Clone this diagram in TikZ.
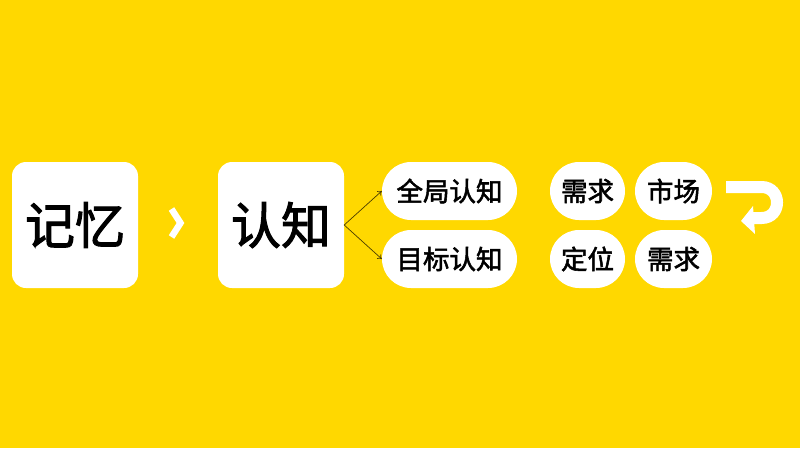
\documentclass[tikz,border=0pt]{standalone}
\usepackage{fontspec}
\newfontfamily\cjk[BoldFont={Noto Sans CJK SC}, BoldFeatures={FakeBold=2}]{Noto Sans CJK SC}
\usetikzlibrary{arrows.meta}
\definecolor{bg}{HTML}{FFD800}
\definecolor{lineC}{HTML}{4A3D00}
\begin{document}
\begin{tikzpicture}[x=1pt,y=-1pt,
  bigbox/.style={fill=white, rounded corners=14pt, minimum width=126pt, minimum height=126pt, inner sep=0pt, font=\cjk\bfseries\fontsize{50}{50}\selectfont},
  pill/.style={fill=white, rounded corners=29pt, minimum height=58pt, inner sep=0pt, font=\cjk\bfseries\fontsize{26.5}{26.5}\selectfont},
  conn/.style={draw=lineC, line width=0.7pt, -{To[length=4pt,width=6pt]}},
  wmark/.style={draw=white, line width=12pt}]
\fill[bg] (0,0) rectangle (800,448);
\useasboundingbox (0,0) rectangle (800,448);
\node[bigbox] (mem) at (75,225) {记忆};
\node[bigbox] (cog) at (281,225) {认知};
\node[pill, minimum width=135pt] (glob) at (449.5,191) {全局认知};
\node[pill, minimum width=135pt] (goal) at (449.5,259) {目标认知};
\node[pill, minimum width=75pt] (need1) at (587.5,191) {需求};
\node[pill, minimum width=77pt] (mkt) at (673.5,191) {市场};
\node[pill, minimum width=75pt] (pos) at (587.5,259) {定位};
\node[pill, minimum width=77pt] (need2) at (673.5,259) {需求};
\draw[conn] (cog.east) -- (glob.west);
\draw[conn] (cog.east) -- (goal.west);
\coordinate (chA) at (171.5,209);
\coordinate (chB) at (180.5,223);
\coordinate (chC) at (171.5,237);
\draw[white, line width=6.5pt, line join=miter, miter limit=4] (chA) -- (chB) -- (chC);
\coordinate (rs) at (726,187);
\coordinate (rt) at (761.5,187);
\coordinate (rb) at (761.5,218);
\coordinate (re) at (751,218);
\draw[wmark] (rs) -- (rt) .. controls (782.2,187) and (782.2,218) .. (rb) -- (re);
\fill[white] (741,221) -- (753,206) -- (755,234) -- cycle;
\end{tikzpicture}
\end{document}
